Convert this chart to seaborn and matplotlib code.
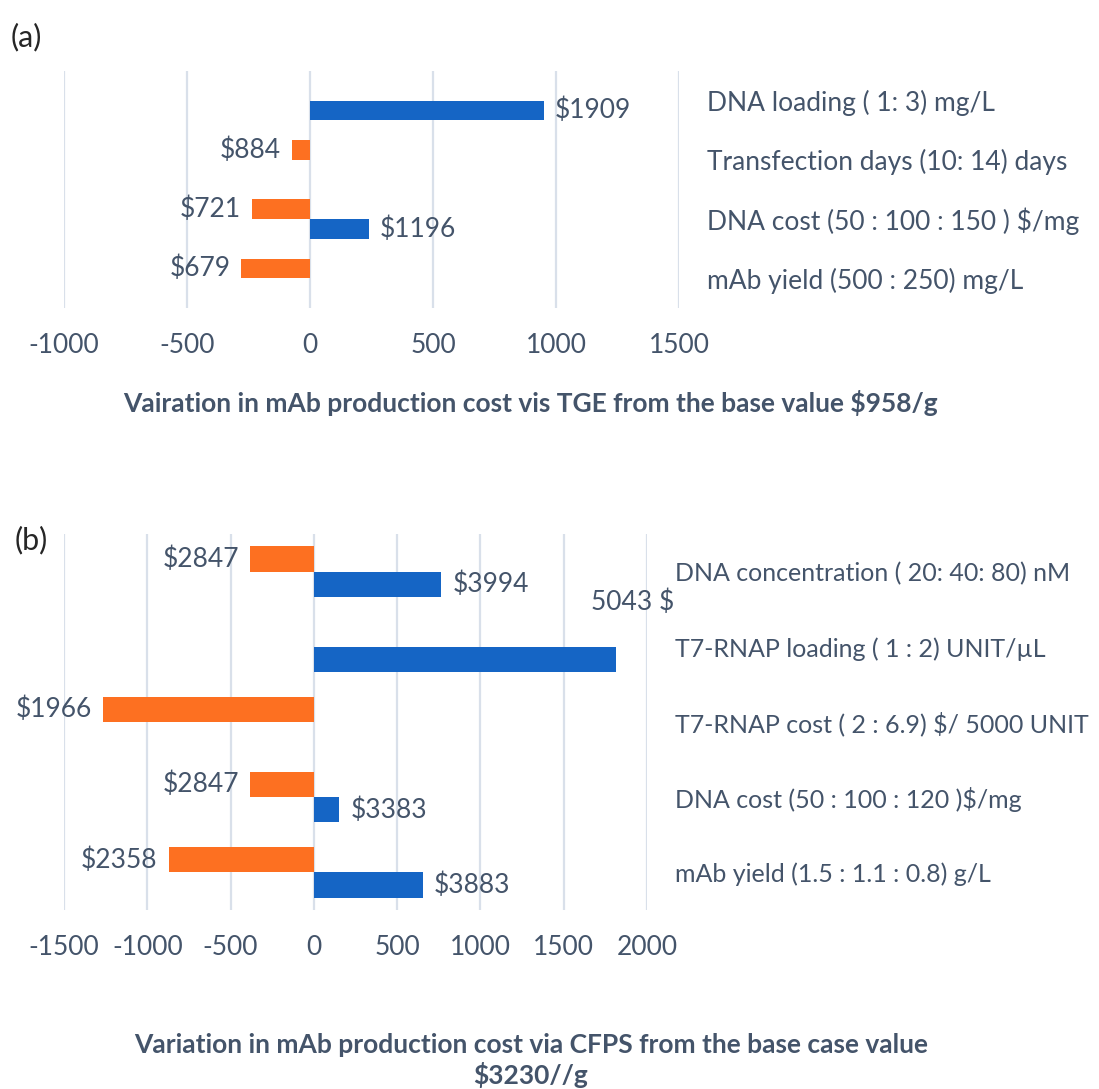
import pandas as pd
import seaborn as sns
import matplotlib.pyplot as plt

# (a) TGE - cost in $/g at the low / high end of each parameter
tge_base = 958
tge_factors = ['DNA loading ( 1: 3) mg/L', 'Transfection days (10: 14) days',
               'DNA cost (50 : 100 : 150 ) $/mg', 'mAb yield (500 : 250) mg/L']
tge_low_cost = [None, 884, 721, 679]
tge_high_cost = [1909, None, 1196, None]
tge_ticks = [-1000, -500, 0, 500, 1000, 1500]

# (b) CFPS
cfps_base = 3230
cfps_factors = ['DNA concentration ( 20: 40: 80) nM', 'T7-RNAP loading ( 1 : 2) UNIT/µL',
                'T7-RNAP cost ( 2 : 6.9) $/ 5000 UNIT', 'DNA cost (50 : 100 : 120 )$/mg',
                'mAb yield (1.5 : 1.1 : 0.8) g/L']
cfps_low_cost = [2847, None, 1966, 2847, 2358]
cfps_high_cost = [3994, 5043, None, 3383, 3883]
cfps_ticks = [-1500, -1000, -500, 0, 500, 1000, 1500, 2000]

ORANGE = '#FD7021'
BLUE = '#1565C5'
TXT = '#44546A'
GRID = '#D9E0EA'
FS = 19

sns.set_style('white')
plt.rcParams['font.family'] = ['Lato', 'DejaVu Sans']
plt.rcParams['text.parse_math'] = False


def tornado_df(factors, low, high, base):
    rows = []
    for f, lo, hi in zip(factors, low, high):
        rows.append((f, 'low', None if lo is None else lo - base))
        rows.append((f, 'high', None if hi is None else hi - base))
    return pd.DataFrame(rows, columns=['factor', 'case', 'delta']).dropna()


def draw(ax, factors, low, high, base, ticks, title, title_x, cat_fs=FS, skip_high=None):
    df = tornado_df(factors, low, high, base)
    sns.barplot(data=df, x='delta', y='factor', hue='case', order=factors,
                hue_order=['low', 'high'], palette=[ORANGE, BLUE], orient='h',
                width=0.67, saturation=1, legend=False, errorbar=None, ax=ax,
                linewidth=0)
    for cont, costs in zip(ax.containers, [low, high]):
        labels = ['${}'.format(c) for c in costs if c is not None]
        if skip_high is not None and costs is high:
            labels[skip_high] = ''
        ax.bar_label(cont, labels=labels, padding=8, fontsize=FS, color=TXT)

    ax.set_xlim(ticks[0], ticks[-1])
    ax.set_xticks(ticks)
    ax.set_xticklabels([str(t) for t in ticks])
    ax.grid(axis='x', color=GRID, linewidth=1.6)
    ax.set_axisbelow(True)
    sns.despine(ax=ax, left=True, bottom=True)
    ax.yaxis.tick_right()
    ax.tick_params(axis='y', length=0, pad=20, labelsize=cat_fs, labelcolor=TXT)
    ax.tick_params(axis='x', length=0, pad=18, labelsize=FS, labelcolor=TXT)
    ax.set_ylabel('')
    ax.set_xlabel(title, fontsize=FS, fontweight='bold', color=TXT, linespacing=1.2)
    ax.xaxis.set_label_coords(title_x, -0.40)
    ax.xaxis.label.set_va('center')


fig = plt.figure(figsize=(10.99, 10.89), dpi=100)
ax_a = fig.add_axes([0.0582, 0.7172, 0.5596, 0.2176])
ax_b = fig.add_axes([0.0582, 0.1644, 0.5305, 0.3453])

draw(ax_a, tge_factors, tge_low_cost, tge_high_cost, tge_base, tge_ticks,
     'Vairation in mAb production cost vis TGE from the base value $958/g', 0.758)
draw(ax_b, cfps_factors, cfps_low_cost, cfps_high_cost, cfps_base, cfps_ticks,
     'Variation in mAb production cost via CFPS from the base case value\n$3230//g',
     0.801, cat_fs=18, skip_high=1)

# odd label for the T7-RNAP loading bar, sitting above-right of the bar end
bar = ax_b.containers[1].patches[1]
ax_b.annotate('5043 $', xy=(bar.get_x() + bar.get_width(), bar.get_y()),
              xytext=(42, 32), textcoords='offset points', ha='right', va='center',
              fontsize=FS, color=TXT, annotation_clip=False)

fig.text(26 / 1099, 1 - 37 / 1089, '(a)', fontsize=22, ha='center', va='center')
fig.text(31 / 1099, 1 - 540 / 1089, '(b)', fontsize=22, ha='center', va='center')

fig.savefig('out.png', dpi=100)
